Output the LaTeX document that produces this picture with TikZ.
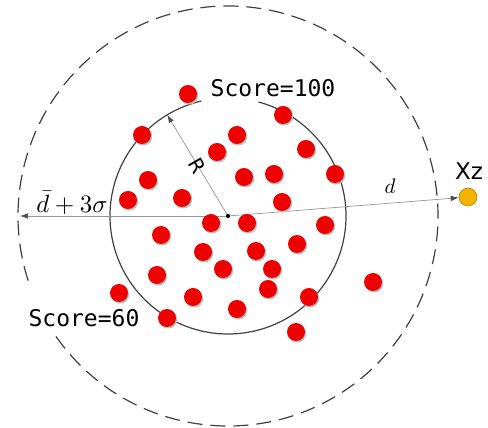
\documentclass[tikz,border=0pt]{standalone}
\usepackage{fontspec}
\newfontfamily\scorefont{DejaVu Sans Mono}
\newfontfamily\labelfont{DejaVu Sans}
\usetikzlibrary{arrows.meta, math}
\definecolor{myred}{RGB}{238,0,0}
\definecolor{myorange}{RGB}{242,178,0}
\definecolor{mygray}{RGB}{150,150,150}

\begin{document}
\begin{tikzpicture}[x=1pt, y=1pt,
  ring/.style={draw=black!75, line width=1.2pt},
  arr/.style={draw=mygray, line width=0.7pt, -{Latex[length=8pt,width=5.5pt,color=black!70]}},
  reddot/.style={circle, fill=myred, minimum size=18pt, inner sep=0pt},
  scorelbl/.style={font=\scorefont\fontsize{23}{26}\selectfont, inner sep=0pt}]
\tikzmath{
\r=118;
\Rout=210;
}
\useasboundingbox (0,0) rectangle (488,428);

%circles
\node[circle, fill=black, minimum size=4pt, inner sep=0pt] (O) at (228,212) {};
\draw[ring] (O.center) ++(103:\r) arc (103:435:\r);
\draw[ring, dash pattern=on 15pt off 8pt] (O.center) ++(215:\Rout) arc (215:560:\Rout);

%arrows
\path (O.center) ++(180:208) coordinate (Lend);
\path (O.center) ++(121:\r) coordinate (Rtip);
\node[circle, fill=myorange, draw=myorange!75!black, line width=0.6pt, minimum size=18pt, inner sep=0pt] (Xz) at (468,231) {};
\draw[arr] (O.center) -- (Lend);
\draw[arr] (O.center) -- (Rtip);
\draw[arr] (O.center) -- (Xz);

%points
\foreach \x/\y [count=\i] in {188/334, 283/313, 142/293, 237/293, 217/276, 306/279,
  148/248, 244/251, 274/254, 335/254, 128/228, 182/230, 282/226, 211/205,
  247/205, 325/203, 161/193, 297/184, 203/176, 256/177, 223/159, 272/159,
  157/153, 373/146, 119/135, 193/131, 268/139, 309/131, 237/119, 167/110, 296/96}{
  \fill[black!25] (\x+1.2,\y-1.5) circle (9);
  \node[reddot] (p\i) at (\x,\y) {};
}
\fill (O) circle (2);

%labels
\node[scorelbl] (s100) at (273,340) {Score=100};
\node[scorelbl] (s60) at (84,110) {Score=60};
\node[font=\labelfont\fontsize{23}{26}\selectfont, inner sep=0pt] (xzlbl) at (469,257) {Xz};
\node[font=\labelfont\fontsize{20}{22}\selectfont, rotate=-60, inner sep=0pt] (Rlbl) at (197,262) {R};
\node[inner sep=0pt] (dlbl) at (72,225) {\scalebox{2.5}{$\bar{d}+3\sigma$}};
\node[inner sep=0pt] (d) at (390,242) {\scalebox{2.1}{$d$}};
\end{tikzpicture}
\end{document}
